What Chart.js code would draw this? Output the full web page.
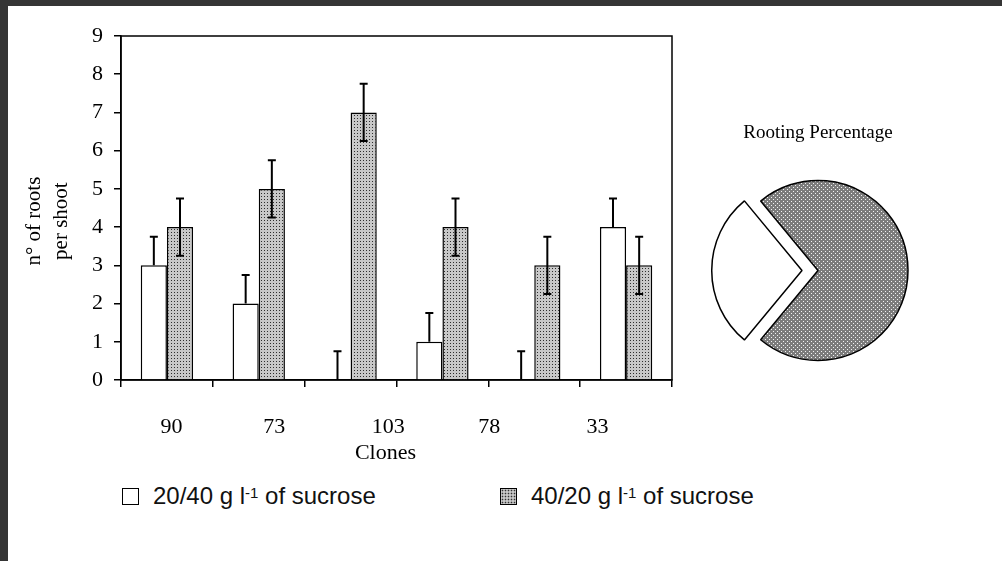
<!DOCTYPE html>
<html>
<head>
<meta charset="utf-8">
<script src="https://cdn.jsdelivr.net/npm/chart.js@4.4.0/dist/chart.umd.min.js"></script>
<style>
  html, body { margin: 0; padding: 0; }
  body { width: 1002px; height: 561px; position: relative; overflow: hidden;
         background: #353535; }
  #sheet { position: absolute; left: 8px; top: 6px; right: 0; bottom: 0; background: #fff; }
  #barChart { position: absolute; left: 0; top: 0; }
  #pieChart { position: absolute; left: 692px; top: 104px; }
  .item { position: absolute; top: 477px; display: flex; align-items: center;
          font: 24px "Liberation Sans", Arial, sans-serif; color: #111; white-space: nowrap; line-height: 26px; }
  .item sup { font-size: 15px; line-height: 0; position: relative; top: -3px; }
  .swatch { display: inline-block; width: 15px; height: 15px; border: 1px solid #000; margin-right: 14px; background: #fff; }
  .swatch.dots { background-color: #c6c6c6;
                 background-image: radial-gradient(circle, #333 0.7px, transparent 1.1px);
                 background-size: 3px 3px; }
</style>
</head>
<body>
<div id="sheet">
  <canvas id="barChart" width="692" height="464"></canvas>
  <canvas id="pieChart" width="236" height="286"></canvas>
  <div class="item" style="left:114px"><span class="swatch"></span>20/40 g l<sup>-1</sup>&nbsp;of sucrose</div>
  <div class="item" style="left:492px"><span class="swatch dots"></span>40/20 g l<sup>-1</sup>&nbsp;of sucrose</div>
</div>
<script>
// six clone groups on the x axis (the fifth one has no label in the figure)
const groups = ['90', '73', '103', '78', '', '33'];
const lowSucrose = [3, 2, 0, 1, 0, 4];
const lowSucroseErr = [0.75, 0.75, 0.75, 0.75, 0.75, 0.75];
const highSucrose = [4, 5, 7, 4, 3, 3];
const highSucroseErr = [0.75, 0.75, 0.75, 0.75, 0.75, 0.75];

// x tick labels as printed under the axis
const tickLabels = ['90', '73', '103', '78', '33'];
const tickPos = [0.55, 1.67, 2.91, 4.01, 5.19];

// pie: rooting percentage
const pieLabels = ['20/40 g l⁻¹ of sucrose', '40/20 g l⁻¹ of sucrose'];
const rooting = [28, 72];

Chart.defaults.font.family = '"Liberation Serif", "Times New Roman", serif';
Chart.defaults.color = '#000';

function makePattern(size, bg, dark, pixels) {
  var c = document.createElement('canvas');
  c.width = size; c.height = size;
  var g = c.getContext('2d');
  g.fillStyle = bg;
  g.fillRect(0, 0, size, size);
  g.fillStyle = dark;
  pixels.forEach(function (p) { g.fillRect(p[0], p[1], 1, 1); });
  return g.createPattern(c, 'repeat');
}

var stipple = makePattern(3, '#c8c8c8', '#2e2e2e', [[1, 1]]);
var crossHatch = makePattern(4, '#7c7c7c', '#f4f4f4', [[1, 1], [3, 3]]);

// error bars, drawn from the y scale
const errorBars = {
  id: 'errorBars',
  afterDatasetsDraw(chart) {
    const ctx = chart.ctx;
    const y = chart.scales.y;
    ctx.save();
    ctx.strokeStyle = '#000';
    ctx.lineWidth = 2;
    chart.data.datasets.forEach((ds, i) => {
      chart.getDatasetMeta(i).data.forEach((bar, j) => {
        const v = ds.data[j], e = ds.errors[j];
        const top = y.getPixelForValue(v + e);
        const bottom = ds.bothWays ? y.getPixelForValue(v - e) : y.getPixelForValue(v);
        ctx.beginPath();
        ctx.moveTo(bar.x, bottom);
        ctx.lineTo(bar.x, top);
        ctx.moveTo(bar.x - 4, top);
        ctx.lineTo(bar.x + 4, top);
        if (ds.bothWays) {
          ctx.moveTo(bar.x - 4, bottom);
          ctx.lineTo(bar.x + 4, bottom);
        }
        ctx.stroke();
      });
    });
    ctx.restore();
  }
};

// box around the plot area
const plotFrame = {
  id: 'plotFrame',
  beforeDatasetsDraw(chart) {
    const { ctx, chartArea: a } = chart;
    ctx.save();
    ctx.strokeStyle = '#000';
    ctx.lineWidth = 1.5;
    ctx.strokeRect(a.left, a.top, a.width, a.height);
    ctx.restore();
  }
};

new Chart(document.getElementById('barChart'), {
  type: 'bar',
  data: {
    labels: groups,
    datasets: [
      {
        label: '20/40 g l⁻¹ of sucrose',
        data: lowSucrose,
        errors: lowSucroseErr,
        bothWays: false,
        backgroundColor: '#fff',
        borderColor: '#000',
        borderWidth: 1.5
      },
      {
        label: '40/20 g l⁻¹ of sucrose',
        data: highSucrose,
        errors: highSucroseErr,
        bothWays: true,
        backgroundColor: stipple,
        borderColor: '#000',
        borderWidth: 1.5
      }
    ]
  },
  options: {
    responsive: false,
    animation: false,
    layout: { padding: { top: 30, right: 28, left: 0, bottom: 0 } },
    barPercentage: 1,
    categoryPercentage: 0.57,
    plugins: {
      legend: { display: false },
      tooltip: { enabled: false }
    },
    scales: {
      x: {
        type: 'category',
        offset: true,
        grid: { offset: true, drawOnChartArea: false, tickLength: 7, color: '#000', lineWidth: 1.5 },
        border: { color: '#000', width: 1.5 },
        ticks: { display: false },
        afterFit: function (s) { s.height = 7; }
      },
      xl: {
        type: 'linear',
        position: 'bottom',
        weight: 1,
        offset: false,
        min: 0,
        max: 6,
        grid: { display: false, drawTicks: false },
        border: { display: false },
        afterBuildTicks: function (s) { s.ticks = tickPos.map(function (v) { return { value: v }; }); },
        ticks: {
          autoSkip: false,
          maxRotation: 0,
          padding: 27,
          font: { size: 22 },
          callback: function (v, i) { return tickLabels[i]; }
        },
        title: { display: true, text: 'Clones    ', font: { size: 22 }, padding: { top: 0, bottom: 4 } },
        afterFit: function (s) { s.height = 83; }
      },
      y: {
        min: 0,
        max: 9,
        ticks: { stepSize: 1, padding: 11, font: { size: 22 } },
        grid: { drawOnChartArea: false, tickLength: 7, color: '#000', lineWidth: 1.5 },
        border: { color: '#000', width: 1.5 },
        title: {
          display: true,
          text: ['n° of roots     ', 'per shoot     '],
          font: { size: 21, lineHeight: 1.3 },
          padding: { top: 13, bottom: 0 }
        },
        afterFit: function (s) { s.width = 113; }
      }
    }
  },
  plugins: [plotFrame, errorBars]
});

// arc offset is divided by 4 when drawn, so 64 gives a 16px pull-out
new Chart(document.getElementById('pieChart'), {
  type: 'pie',
  data: {
    labels: pieLabels,
    datasets: [{
      data: rooting,
      backgroundColor: ['#fff', crossHatch],
      borderColor: '#000',
      borderWidth: 1.5,
      offset: [64, 0]
    }]
  },
  options: {
    responsive: false,
    animation: false,
    radius: 90,
    rotation: 219.6,
    plugins: {
      legend: { display: false },
      tooltip: { enabled: false },
      title: {
        display: true,
        text: 'Rooting Percentage',
        color: '#000',
        font: { size: 19, weight: 'normal' },
        padding: { top: 12, bottom: 0 }
      }
    }
  }
});
</script>
</body>
</html>
